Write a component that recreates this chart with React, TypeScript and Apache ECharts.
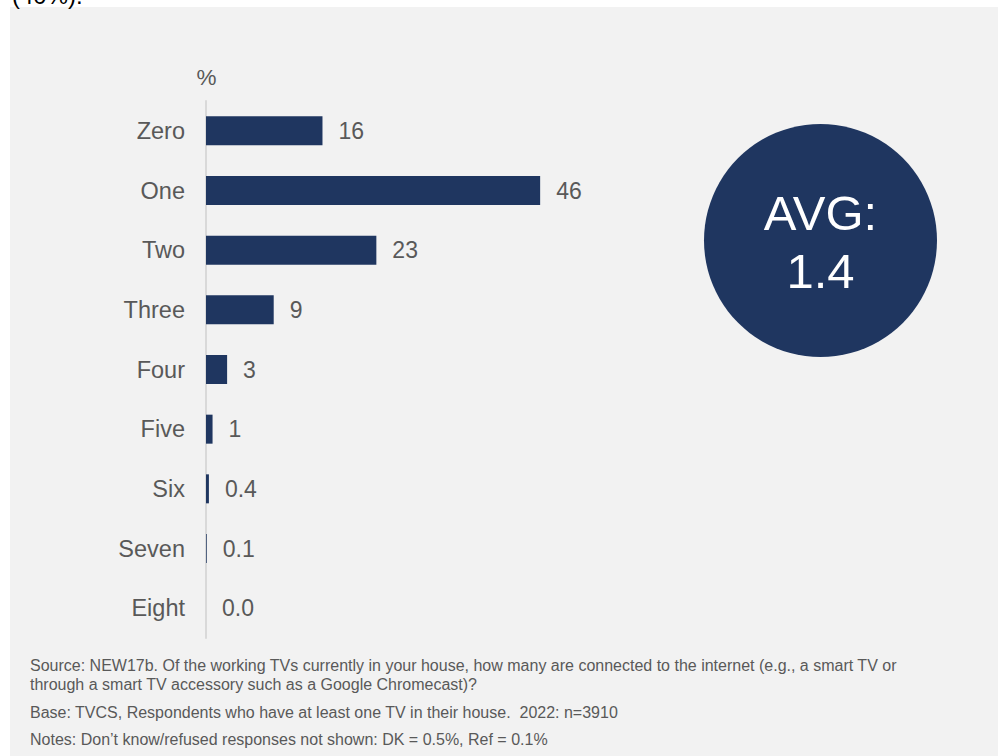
import React, { useEffect, useRef } from "react";
import * as echarts from "echarts";

const categories = ["Zero", "One", "Two", "Three", "Four", "Five", "Six", "Seven", "Eight"];
const values = [16.0, 45.9, 23.4, 9.3, 2.9, 0.9, 0.4, 0.1, 0.0];
const valueLabels = ["16", "46", "23", "9", "3", "1", "0.4", "0.1", "0.0"];
const unitLabel = "%";
const avgLines = ["AVG:", "1.4"];
const footnotes = [
  "Source: NEW17b. Of the working TVs currently in your house, how many are connected to the internet (e.g., a smart TV or",
  "through a smart TV accessory such as a Google Chromecast)?",
  "Base: TVCS, Respondents who have at least one TV in their house.  2022: n=3910",
  "Notes: Don\u2019t know/refused responses not shown: DK = 0.5%, Ref = 0.1%",
];
const topClipText = "(40%).";

const NAVY = "#1f3660";
const GREY_TEXT = "#595959";
const FONT = "Liberation Sans, Arial, sans-serif";

export default function App() {
  const ref = useRef<HTMLDivElement>(null);
  useEffect(() => {
    if (!ref.current) return;
    const chart = echarts.init(ref.current, null, { renderer: "svg" });
    const footY = [665, 684, 712, 739];
    chart.setOption({
      animation: false,
      backgroundColor: "#ffffff",
      grid: { left: 206, top: 101, width: 728, height: 537, containLabel: false },
      xAxis: {
        type: "value",
        min: 0,
        max: 100,
        show: false,
      },
      yAxis: {
        type: "category",
        data: categories,
        inverse: true,
        axisLine: { show: true, lineStyle: { color: "#d9d9d9", width: 2 } },
        axisTick: { show: false },
        splitLine: { show: false },
        axisLabel: {
          margin: 21,
          fontSize: 23.5,
          color: GREY_TEXT,
          fontFamily: FONT,
        },
        z: 1,
      },
      series: [
        {
          type: "bar",
          data: values,
          barWidth: 29,
          itemStyle: { color: NAVY },
          label: {
            show: true,
            position: "right",
            distance: 16,
            fontSize: 23,
            color: GREY_TEXT,
            fontFamily: FONT,
            formatter: (p: any) => valueLabels[p.dataIndex],
          },
          z: 3,
        },
      ],
      graphic: [
        {
          type: "rect",
          z: -10,
          silent: true,
          shape: { x: 10, y: 7, width: 988, height: 749 },
          style: { fill: "#f2f2f2" },
        },
        {
          type: "text",
          x: 12,
          y: -17,
          z: -5,
          style: {
            text: topClipText,
            fill: "#000000",
            fontSize: 24,
            fontFamily: FONT,
            verticalAlign: "top",
          },
        },
        {
          type: "text",
          x: 206.5,
          y: 77,
          style: {
            text: unitLabel,
            fill: GREY_TEXT,
            fontSize: 22.5,
            fontFamily: FONT,
            align: "center",
            verticalAlign: "middle",
          },
        },
        {
          type: "circle",
          shape: { cx: 820.5, cy: 240.5, r: 116.5 },
          style: { fill: NAVY },
        },
        {
          type: "text",
          x: 820.5,
          y: 213,
          style: {
            text: avgLines[0],
            fill: "#ffffff",
            fontSize: 49,
            fontFamily: FONT,
            align: "center",
            verticalAlign: "middle",
          },
        },
        {
          type: "text",
          x: 820.5,
          y: 271,
          style: {
            text: avgLines[1],
            fill: "#ffffff",
            fontSize: 49,
            fontFamily: FONT,
            align: "center",
            verticalAlign: "middle",
          },
        },
        ...footnotes.map((t, i) => ({
          type: "text",
          x: 30,
          y: footY[i],
          style: {
            text: t,
            fill: GREY_TEXT,
            fontSize: 16,
            fontFamily: FONT,
            align: "left",
            verticalAlign: "middle",
          },
        })),
      ],
    });
    return () => chart.dispose();
  }, []);
  return (
    <div
      ref={ref}
      style={{ position: "absolute", left: 0, top: 0, width: 998, height: 756 }}
    />
  );
}
